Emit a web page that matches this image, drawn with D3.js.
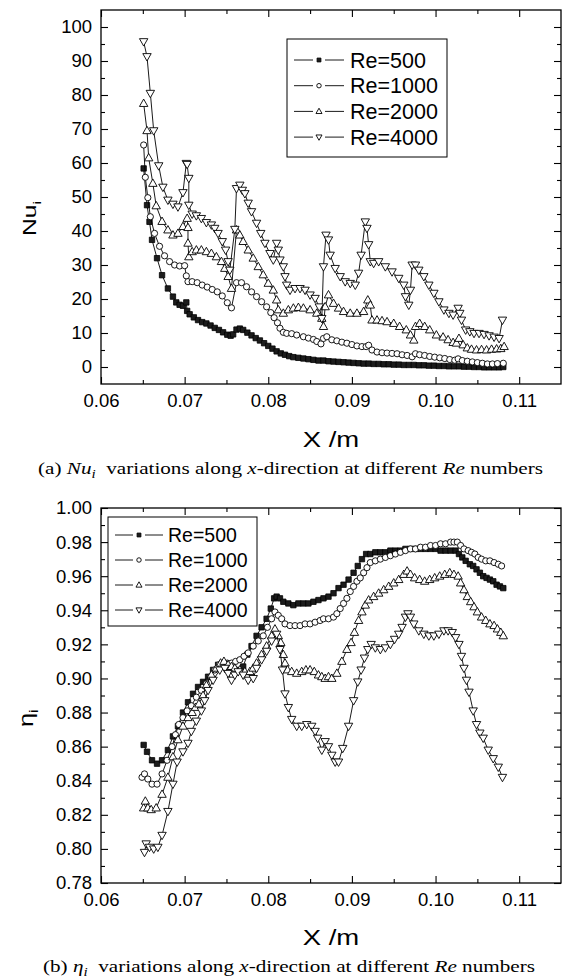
<!DOCTYPE html>
<html><head><meta charset="utf-8">
<script src="https://cdn.jsdelivr.net/npm/d3@7"></script>
<style>body{margin:0;background:#fff} svg{display:block}</style>
</head><body>
<svg id="c" width="565" height="979"></svg>
<script>
// ---------- data ----------
const reLabels = ["Re=500", "Re=1000", "Re=2000", "Re=4000"];
const xTicks = [0.06, 0.07, 0.08, 0.09, 0.10, 0.11];
const xMinor = [0.065, 0.075, 0.085, 0.095, 0.105];
const nuTicks = [0, 10, 20, 30, 40, 50, 60, 70, 80, 90, 100];
const nuMinor = [5, 15, 25, 35, 45, 55, 65, 75, 85, 95];
const etaTicks = [0.78, 0.80, 0.82, 0.84, 0.86, 0.88, 0.90, 0.92, 0.94, 0.96, 0.98, 1.00];
const etaMinor = [0.79, 0.81, 0.83, 0.85, 0.87, 0.89, 0.91, 0.93, 0.95, 0.97, 0.99];

const nuRe500 = [[0.0651,58.4],[0.0655,47.6],[0.0658,42.7],[0.0661,37.4],[0.0667,32.0],[0.0673,27.0],[0.0680,23.1],[0.0686,20.7],[0.0690,19.0],[0.0694,18.3],[0.0698,18.0],[0.0702,19.0],[0.0703,16.5],[0.0706,15.5],[0.0711,14.6],[0.0716,13.8],[0.0721,13.2],[0.0726,12.8],[0.0731,12.2],[0.0736,11.5],[0.0741,10.9],[0.0746,10.2],[0.0751,9.5],[0.0755,9.2],[0.0758,9.6],[0.0762,11.0],[0.0766,11.3],[0.0770,10.9],[0.0775,10.1],[0.0780,9.3],[0.0785,8.5],[0.0790,7.8],[0.0795,7.0],[0.0800,6.2],[0.0805,5.4],[0.0810,4.6],[0.0815,4.0],[0.0820,3.6],[0.0825,3.2],[0.0830,2.9],[0.0836,2.7],[0.0842,2.5],[0.0848,2.3],[0.0854,2.1],[0.0860,1.9],[0.0866,1.9],[0.0872,1.7],[0.0878,1.6],[0.0884,1.5],[0.0890,1.4],[0.0896,1.3],[0.0902,1.2],[0.0908,1.1],[0.0914,1.0],[0.0920,1.0],[0.0926,0.9],[0.0932,0.9],[0.0938,0.8],[0.0944,0.8],[0.0950,0.7],[0.0956,0.7],[0.0962,0.6],[0.0968,0.6],[0.0974,0.6],[0.0980,0.5],[0.0986,0.5],[0.0992,0.4],[0.0998,0.4],[0.1004,0.3],[0.1010,0.3],[0.1016,0.2],[0.1022,0.2],[0.1028,0.2],[0.1034,0.1],[0.1040,0.1],[0.1046,0.0],[0.1052,0.0],[0.1058,-0.1],[0.1064,-0.1],[0.1070,-0.1],[0.1076,-0.1],[0.1081,0.0]];
const nuRe1000 = [[0.0651,65.3],[0.0653,55.8],[0.0656,49.8],[0.0659,44.2],[0.0664,39.3],[0.0670,35.5],[0.0676,32.7],[0.0682,31.0],[0.0688,30.0],[0.0694,29.7],[0.0700,29.8],[0.0702,26.8],[0.0704,25.1],[0.0709,25.1],[0.0715,24.8],[0.0721,24.1],[0.0727,23.5],[0.0733,22.8],[0.0739,22.1],[0.0745,20.9],[0.0751,18.9],[0.0756,17.4],[0.0762,24.8],[0.0768,24.8],[0.0774,23.6],[0.0780,22.1],[0.0786,20.7],[0.0792,19.2],[0.0798,17.7],[0.0803,16.0],[0.0807,14.5],[0.0811,13.0],[0.0814,11.4],[0.0818,10.2],[0.0822,9.9],[0.0828,9.8],[0.0834,9.4],[0.0842,8.9],[0.0848,8.5],[0.0854,8.1],[0.0858,7.5],[0.0863,6.8],[0.0866,8.4],[0.0870,8.9],[0.0876,8.0],[0.0882,7.7],[0.0888,7.3],[0.0894,7.0],[0.0900,6.6],[0.0906,6.2],[0.0912,6.0],[0.0917,6.0],[0.0920,6.4],[0.0924,5.0],[0.0930,4.4],[0.0936,4.2],[0.0942,4.1],[0.0948,4.0],[0.0954,3.9],[0.0960,3.6],[0.0966,3.4],[0.0972,3.0],[0.0976,3.9],[0.0981,3.6],[0.0987,3.4],[0.0993,3.1],[0.0999,2.9],[0.1005,2.7],[0.1011,2.5],[0.1017,2.2],[0.1023,2.0],[0.1027,2.4],[0.1032,1.9],[0.1038,1.7],[0.1044,1.5],[0.1050,1.3],[0.1056,1.1],[0.1062,0.9],[0.1068,0.9],[0.1074,1.0],[0.1081,1.1]];
const nuRe2000 = [[0.0651,77.5],[0.0655,69.5],[0.0657,61.5],[0.0662,54.0],[0.0666,47.4],[0.0673,42.8],[0.0680,40.3],[0.0686,38.8],[0.0692,39.3],[0.0698,41.3],[0.0703,43.7],[0.0704,41.0],[0.0704,36.4],[0.0705,32.4],[0.0709,33.9],[0.0714,34.4],[0.0720,34.4],[0.0726,33.9],[0.0732,33.4],[0.0738,32.4],[0.0744,31.0],[0.0748,29.0],[0.0752,26.6],[0.0756,23.1],[0.0762,40.3],[0.0766,38.8],[0.0770,36.9],[0.0776,34.4],[0.0782,32.0],[0.0788,29.5],[0.0794,27.1],[0.0800,24.6],[0.0806,22.6],[0.0810,19.7],[0.0812,16.8],[0.0818,15.8],[0.0824,16.8],[0.0830,17.3],[0.0836,17.5],[0.0842,17.3],[0.0850,16.8],[0.0858,15.8],[0.0864,14.3],[0.0866,11.9],[0.0868,17.7],[0.0872,21.2],[0.0878,18.7],[0.0884,17.3],[0.0890,16.3],[0.0898,15.8],[0.0906,15.8],[0.0914,16.3],[0.0919,19.7],[0.0922,18.2],[0.0924,13.8],[0.0930,13.8],[0.0936,13.6],[0.0942,13.3],[0.0950,12.8],[0.0957,11.9],[0.0965,10.9],[0.0970,9.4],[0.0974,7.9],[0.0976,11.9],[0.0981,12.8],[0.0987,11.9],[0.0993,10.9],[0.1001,9.4],[0.1009,8.8],[0.1015,8.0],[0.1021,7.2],[0.1025,7.0],[0.1028,8.4],[0.1033,6.5],[0.1038,5.6],[0.1043,5.2],[0.1049,5.0],[0.1055,5.1],[0.1061,5.0],[0.1067,5.2],[0.1073,5.3],[0.1078,5.4],[0.1082,6.0]];
const nuRe4000 = [[0.0651,95.7],[0.0655,91.3],[0.0659,80.5],[0.0663,69.5],[0.0669,59.2],[0.0674,52.9],[0.0680,49.1],[0.0686,47.9],[0.0692,47.1],[0.0698,51.3],[0.0702,59.9],[0.0703,59.6],[0.0705,55.5],[0.0705,47.6],[0.0709,45.0],[0.0714,44.5],[0.0720,43.7],[0.0726,42.5],[0.0732,41.8],[0.0736,40.8],[0.0740,39.3],[0.0745,36.9],[0.0749,34.4],[0.0752,31.0],[0.0754,28.5],[0.0760,40.5],[0.0762,52.5],[0.0766,53.5],[0.0769,52.0],[0.0772,51.0],[0.0776,48.2],[0.0780,45.7],[0.0786,42.3],[0.0791,39.3],[0.0796,36.4],[0.0802,33.4],[0.0806,31.5],[0.0810,36.4],[0.0812,34.4],[0.0814,31.5],[0.0818,29.5],[0.0820,26.6],[0.0822,24.1],[0.0826,22.6],[0.0832,23.1],[0.0838,23.1],[0.0844,22.6],[0.0850,21.2],[0.0856,20.2],[0.0861,17.7],[0.0864,14.3],[0.0866,29.5],[0.0869,38.8],[0.0872,37.4],[0.0874,32.9],[0.0880,29.0],[0.0886,26.6],[0.0892,25.1],[0.0898,24.6],[0.0904,24.1],[0.0908,27.6],[0.0911,32.9],[0.0916,42.7],[0.0918,40.8],[0.0920,36.0],[0.0922,31.0],[0.0926,30.5],[0.0932,31.0],[0.0940,29.5],[0.0948,28.0],[0.0956,26.1],[0.0962,24.1],[0.0964,20.7],[0.0968,18.2],[0.0970,22.6],[0.0972,30.0],[0.0976,30.0],[0.0980,28.5],[0.0986,26.6],[0.0992,24.1],[0.0998,21.7],[0.1004,19.2],[0.1010,16.8],[0.1016,15.8],[0.1021,15.3],[0.1027,17.3],[0.1029,15.8],[0.1031,13.8],[0.1036,10.9],[0.1041,10.4],[0.1046,9.9],[0.1052,9.9],[0.1058,9.6],[0.1064,9.2],[0.1070,8.8],[0.1076,8.4],[0.1080,13.8]];

const etaRe500 = [[0.0651,0.861],[0.0655,0.857],[0.0661,0.852],[0.0667,0.850],[0.0673,0.852],[0.0680,0.858],[0.0686,0.866],[0.0692,0.872],[0.0698,0.880],[0.0704,0.886],[0.0710,0.891],[0.0716,0.895],[0.0722,0.898],[0.0728,0.901],[0.0734,0.905],[0.0740,0.908],[0.0746,0.909],[0.0752,0.907],[0.0758,0.906],[0.0764,0.905],[0.0770,0.907],[0.0775,0.914],[0.0780,0.919],[0.0786,0.925],[0.0792,0.930],[0.0798,0.935],[0.0803,0.941],[0.0807,0.947],[0.0810,0.948],[0.0814,0.947],[0.0818,0.945],[0.0824,0.944],[0.0830,0.943],[0.0836,0.944],[0.0842,0.944],[0.0848,0.944],[0.0854,0.945],[0.0860,0.946],[0.0866,0.947],[0.0872,0.948],[0.0878,0.950],[0.0884,0.953],[0.0890,0.955],[0.0896,0.958],[0.0902,0.962],[0.0907,0.966],[0.0912,0.970],[0.0917,0.973],[0.0922,0.973],[0.0928,0.974],[0.0934,0.974],[0.0940,0.974],[0.0946,0.975],[0.0952,0.975],[0.0958,0.975],[0.0964,0.976],[0.0970,0.976],[0.0976,0.976],[0.0982,0.976],[0.0988,0.976],[0.0994,0.976],[0.1000,0.976],[0.1006,0.975],[0.1012,0.975],[0.1018,0.975],[0.1024,0.975],[0.1028,0.973],[0.1032,0.971],[0.1036,0.969],[0.1041,0.967],[0.1045,0.966],[0.1049,0.964],[0.1053,0.962],[0.1057,0.960],[0.1061,0.959],[0.1065,0.958],[0.1069,0.957],[0.1073,0.955],[0.1077,0.954],[0.1081,0.953]];
const etaRe1000 = [[0.0649,0.842],[0.0652,0.844],[0.0656,0.841],[0.0661,0.838],[0.0667,0.838],[0.0673,0.844],[0.0679,0.852],[0.0685,0.860],[0.0689,0.867],[0.0693,0.873],[0.0698,0.877],[0.0703,0.881],[0.0708,0.884],[0.0714,0.889],[0.0720,0.893],[0.0726,0.897],[0.0731,0.901],[0.0736,0.905],[0.0741,0.908],[0.0746,0.909],[0.0751,0.909],[0.0756,0.909],[0.0761,0.910],[0.0766,0.911],[0.0771,0.913],[0.0776,0.915],[0.0782,0.919],[0.0788,0.922],[0.0794,0.925],[0.0799,0.930],[0.0804,0.935],[0.0808,0.939],[0.0812,0.937],[0.0816,0.935],[0.0820,0.932],[0.0826,0.931],[0.0832,0.931],[0.0838,0.931],[0.0844,0.932],[0.0850,0.932],[0.0856,0.933],[0.0862,0.934],[0.0866,0.935],[0.0872,0.935],[0.0878,0.936],[0.0882,0.938],[0.0886,0.941],[0.0890,0.944],[0.0894,0.947],[0.0898,0.951],[0.0902,0.954],[0.0906,0.957],[0.0910,0.959],[0.0914,0.962],[0.0918,0.965],[0.0922,0.968],[0.0928,0.969],[0.0934,0.970],[0.0940,0.971],[0.0946,0.972],[0.0952,0.973],[0.0958,0.974],[0.0964,0.975],[0.0970,0.976],[0.0976,0.976],[0.0982,0.977],[0.0988,0.977],[0.0994,0.978],[0.1000,0.978],[0.1006,0.979],[0.1012,0.979],[0.1018,0.980],[0.1022,0.980],[0.1026,0.980],[0.1030,0.978],[0.1034,0.976],[0.1039,0.975],[0.1043,0.974],[0.1047,0.973],[0.1051,0.971],[0.1055,0.970],[0.1060,0.969],[0.1065,0.969],[0.1070,0.968],[0.1075,0.967],[0.1079,0.966]];
const etaRe2000 = [[0.0651,0.824],[0.0653,0.828],[0.0656,0.824],[0.0660,0.823],[0.0666,0.824],[0.0673,0.832],[0.0680,0.842],[0.0686,0.854],[0.0692,0.864],[0.0698,0.872],[0.0704,0.877],[0.0709,0.880],[0.0713,0.883],[0.0717,0.885],[0.0722,0.890],[0.0726,0.896],[0.0732,0.902],[0.0738,0.906],[0.0743,0.909],[0.0747,0.910],[0.0752,0.908],[0.0756,0.907],[0.0760,0.906],[0.0766,0.905],[0.0772,0.904],[0.0778,0.904],[0.0782,0.906],[0.0786,0.909],[0.0792,0.914],[0.0798,0.919],[0.0804,0.925],[0.0808,0.929],[0.0812,0.925],[0.0815,0.921],[0.0818,0.914],[0.0820,0.909],[0.0823,0.905],[0.0828,0.904],[0.0834,0.903],[0.0840,0.904],[0.0845,0.905],[0.0850,0.905],[0.0855,0.904],[0.0860,0.902],[0.0864,0.901],[0.0868,0.900],[0.0872,0.901],[0.0876,0.900],[0.0882,0.903],[0.0888,0.910],[0.0894,0.917],[0.0899,0.921],[0.0903,0.927],[0.0908,0.934],[0.0912,0.939],[0.0916,0.943],[0.0920,0.946],[0.0926,0.948],[0.0932,0.950],[0.0938,0.952],[0.0944,0.954],[0.0950,0.956],[0.0956,0.958],[0.0962,0.961],[0.0966,0.963],[0.0970,0.961],[0.0975,0.959],[0.0981,0.958],[0.0987,0.957],[0.0993,0.958],[0.0999,0.959],[0.1005,0.960],[0.1011,0.961],[0.1017,0.962],[0.1022,0.961],[0.1027,0.960],[0.1030,0.956],[0.1034,0.952],[0.1038,0.948],[0.1042,0.945],[0.1046,0.942],[0.1050,0.939],[0.1055,0.936],[0.1060,0.934],[0.1065,0.932],[0.1070,0.931],[0.1074,0.929],[0.1078,0.927],[0.1081,0.925]];
const etaRe4000 = [[0.0652,0.798],[0.0654,0.803],[0.0658,0.801],[0.0663,0.800],[0.0668,0.801],[0.0673,0.808],[0.0680,0.822],[0.0686,0.838],[0.0691,0.851],[0.0698,0.857],[0.0704,0.862],[0.0708,0.869],[0.0714,0.875],[0.0720,0.881],[0.0724,0.887],[0.0728,0.893],[0.0734,0.899],[0.0742,0.905],[0.0748,0.906],[0.0752,0.903],[0.0756,0.899],[0.0760,0.902],[0.0764,0.904],[0.0770,0.902],[0.0776,0.899],[0.0782,0.900],[0.0786,0.906],[0.0792,0.911],[0.0798,0.916],[0.0804,0.922],[0.0810,0.926],[0.0814,0.917],[0.0817,0.905],[0.0820,0.891],[0.0824,0.883],[0.0828,0.876],[0.0834,0.872],[0.0840,0.872],[0.0846,0.873],[0.0852,0.872],[0.0856,0.869],[0.0859,0.865],[0.0864,0.858],[0.0868,0.863],[0.0872,0.860],[0.0876,0.855],[0.0880,0.851],[0.0884,0.851],[0.0889,0.859],[0.0896,0.872],[0.0902,0.887],[0.0907,0.898],[0.0911,0.905],[0.0915,0.912],[0.0919,0.917],[0.0923,0.920],[0.0928,0.918],[0.0934,0.917],[0.0940,0.918],[0.0946,0.920],[0.0951,0.923],[0.0956,0.926],[0.0960,0.930],[0.0964,0.936],[0.0967,0.938],[0.0970,0.936],[0.0974,0.932],[0.0980,0.928],[0.0986,0.926],[0.0992,0.925],[0.0998,0.925],[0.1004,0.926],[0.1010,0.928],[0.1015,0.928],[0.1020,0.927],[0.1024,0.924],[0.1028,0.920],[0.1031,0.913],[0.1034,0.906],[0.1037,0.899],[0.1040,0.892],[0.1045,0.881],[0.1049,0.873],[0.1053,0.868],[0.1057,0.865],[0.1063,0.858],[0.1069,0.853],[0.1075,0.848],[0.1080,0.842]];

// ---------- drawing ----------
const svg = d3.select("#c");
const SANS = "'Liberation Sans', Arial, Helvetica, sans-serif";
const SERIF = "'Liberation Serif', 'Times New Roman', serif";
const shapes = ["square", "circle", "up", "down"];

function markerPath(shape, k) {
  if (shape === "square") { const a = 2.7 * k; return `M${-a},${-a}h${2*a}v${2*a}h${-2*a}Z`; }
  if (shape === "circle") { const r = 3.1 * k; return `M${r},0A${r},${r} 0 1,1 ${-r},0A${r},${r} 0 1,1 ${r},0Z`; }
  const w = 8.4 * k, h = 7.4 * k;
  if (shape === "up") return `M0,${-h*0.6}L${w/2},${h*0.4}L${-w/2},${h*0.4}Z`;
  return `M0,${h*0.6}L${w/2},${-h*0.4}L${-w/2},${-h*0.4}Z`;
}
function styleMarker(sel, shape) {
  if (shape === "square") sel.attr("fill", "#1c1c1c").attr("stroke", "#000").attr("stroke-width", 0.8);
  else sel.attr("fill", "#fff").attr("stroke", "#000").attr("stroke-width", 0.9);
}

function drawPanel(o) {
  const g = svg.append("g");
  const x = d3.scaleLinear().domain([0.06, 0.115]).range([o.left, o.right]);
  const y = d3.scaleLinear().domain(o.yDomain).range([o.bottom, o.top]);

  // series
  o.series.forEach((data, i) => {
    const line = d3.line().x(d => x(d[0])).y(d => y(d[1]));
    g.append("path").attr("d", line(data)).attr("fill", "none")
      .attr("stroke", "#000").attr("stroke-width", 0.9);
    const m = g.append("g").selectAll("path").data(data).join("path")
      .attr("d", markerPath(shapes[i], 1))
      .attr("transform", d => `translate(${x(d[0])},${y(d[1])})`);
    styleMarker(m, shapes[i]);
  });

  // axes
  const ax = (gen, tr) => {
    const a = g.append("g").attr("transform", tr).call(gen);
    a.select(".domain").remove();
    a.selectAll("line").attr("stroke", "#000").attr("stroke-width", 1.1);
    a.selectAll("text").attr("font-family", SANS).attr("font-size", 18.5).attr("fill", "#000");
    return a;
  };
  ax(d3.axisBottom(x).tickValues(xTicks).tickFormat(d3.format(".2f")).tickSize(-7).tickPadding(9.5), `translate(0,${o.bottom})`);
  ax(d3.axisBottom(x).tickValues(xMinor).tickFormat("").tickSize(-4), `translate(0,${o.bottom})`);
  ax(d3.axisTop(x).tickValues(xTicks).tickFormat("").tickSize(-7), `translate(0,${o.top})`);
  ax(d3.axisTop(x).tickValues(xMinor).tickFormat("").tickSize(-4), `translate(0,${o.top})`);
  ax(d3.axisLeft(y).tickValues(o.yTicks).tickFormat(o.yFormat).tickSize(-7).tickPadding(9), `translate(${o.left},0)`);
  ax(d3.axisLeft(y).tickValues(o.yMinor).tickFormat("").tickSize(-4), `translate(${o.left},0)`);
  ax(d3.axisRight(y).tickValues(o.yTicks).tickFormat("").tickSize(-7), `translate(${o.right},0)`);
  ax(d3.axisRight(y).tickValues(o.yMinor).tickFormat("").tickSize(-4), `translate(${o.right},0)`);

  g.append("rect").attr("x", o.left).attr("y", o.top)
    .attr("width", o.right - o.left).attr("height", o.bottom - o.top)
    .attr("fill", "none").attr("stroke", "#000").attr("stroke-width", 1.3);

  // x title (horizontally widened like the source figure)
  g.append("text").attr("transform", `translate(${(o.left + o.right) / 2},${o.xTitleY}) scale(1.25,1)`)
    .attr("text-anchor", "middle").attr("font-family", SANS).attr("font-size", 22)
    .text("X /m");

  // y title
  const yt = g.append("text").attr("transform", `translate(${o.yTitleX},${o.yTitleY}) rotate(-90) scale(${o.yTitleStretch},1)`)
    .attr("font-family", SANS).attr("font-size", o.yTitleSize);
  yt.append("tspan").text(o.yTitle);
  yt.append("tspan").attr("font-size", o.yTitleSize * 0.62).attr("dy", 5).text("i");

  // legend
  const L = o.legend;
  g.append("rect").attr("x", L.x).attr("y", L.y).attr("width", L.w).attr("height", L.h)
    .attr("fill", "#fff").attr("stroke", "#000").attr("stroke-width", 1);
  reLabels.forEach((lab, i) => {
    const cy = L.y + L.first + i * L.step;
    g.append("line").attr("x1", L.x + 7).attr("x2", L.x + L.mx - 6).attr("y1", cy).attr("y2", cy)
      .attr("stroke", "#000").attr("stroke-width", 0.9);
    g.append("line").attr("x1", L.x + L.mx + 6).attr("x2", L.x + 2 * L.mx - 7).attr("y1", cy).attr("y2", cy)
      .attr("stroke", "#000").attr("stroke-width", 0.9);
    const mk = g.append("path").attr("d", markerPath(shapes[i], 0.72))
      .attr("transform", `translate(${L.x + L.mx},${cy})`);
    styleMarker(mk, shapes[i]);
    g.append("text").attr("x", L.x + L.tx).attr("y", cy).attr("dy", "0.36em")
      .attr("font-family", SANS).attr("font-size", L.fs).text(lab);
  });

  // caption
  const c = g.append("text").attr("transform", `translate(${o.capX},${o.capY}) scale(1.21,1)`)
    .attr("font-family", SERIF).attr("font-size", 17.5).attr("fill", "#000");
  c.append("tspan").text(o.capPrefix + " ");
  c.append("tspan").attr("font-style", "italic").text(o.capSym);
  c.append("tspan").attr("font-style", "italic").attr("font-size", 12.5).attr("dy", 3.5).text("i");
  c.append("tspan").attr("dy", -3.5).text("\u2002variations along ");
  c.append("tspan").attr("font-style", "italic").text("x");
  c.append("tspan").text("-direction at different ");
  c.append("tspan").attr("font-style", "italic").text("Re");
  c.append("tspan").text(" numbers");
}

drawPanel({
  top: 10, bottom: 384, left: 101, right: 561,
  yDomain: [-5, 105], yTicks: nuTicks, yMinor: nuMinor, yFormat: d3.format("d"),
  series: [nuRe500, nuRe1000, nuRe2000, nuRe4000],
  xTitleY: 447, yTitle: "Nu", yTitleX: 36, yTitleY: 236, yTitleSize: 19, yTitleStretch: 1.3,
  legend: {x: 287, y: 39, w: 160, h: 118, first: 21, step: 25.7, mx: 32, tx: 63, fs: 21.5},
  capX: 38, capY: 474, capPrefix: "(a)", capSym: "Nu"
});
drawPanel({
  top: 508, bottom: 883, left: 101, right: 561,
  yDomain: [0.78, 1.00], yTicks: etaTicks, yMinor: etaMinor, yFormat: d3.format(".2f"),
  series: [etaRe500, etaRe1000, etaRe2000, etaRe4000],
  xTitleY: 945, yTitle: "\u03b7", yTitleX: 33, yTitleY: 727, yTitleSize: 21, yTitleStretch: 1.2,
  legend: {x: 108, y: 517, w: 149, h: 109, first: 18, step: 25, mx: 31, tx: 60, fs: 19.5},
  capX: 43, capY: 972, capPrefix: "(b)", capSym: "\u03b7"
});
</script>
</body></html>
